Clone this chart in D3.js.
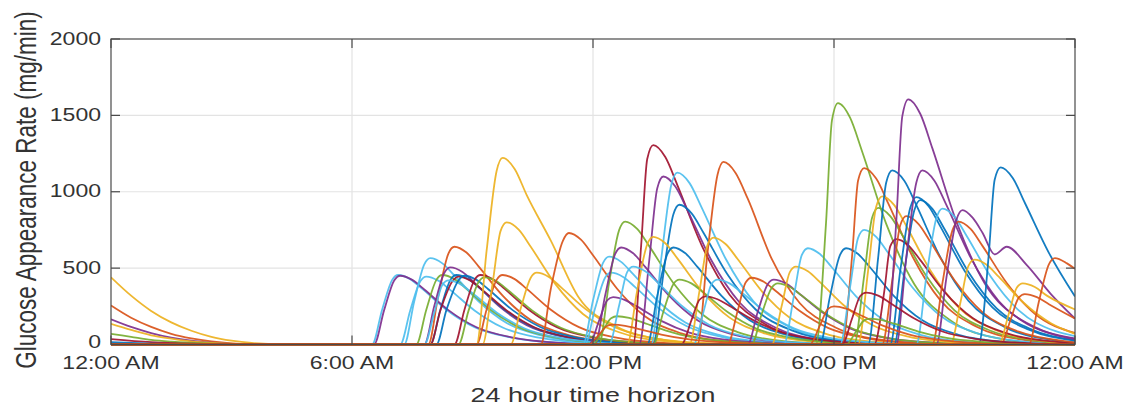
<!DOCTYPE html>
<html>
<head>
<meta charset="utf-8">
<script src="https://cdn.jsdelivr.net/npm/d3@7"></script>
<style>
  html, body { margin: 0; padding: 0; background: #fff; }
  svg { display: block; }
  text { font-family: "Liberation Sans", Arial, Helvetica, sans-serif; fill: #333; }
</style>
</head>
<body>
<svg id="chart" width="1133" height="405"></svg>
<script>
// ---------- data ----------
const xTicks = [0, 6, 12, 18, 24];
const xTickLabels = ["12:00 AM", "6:00 AM", "12:00 PM", "6:00 PM", "12:00 AM"];
const yTicks = [0, 500, 1000, 1500, 2000];
const xLabel = "24 hour time horizon";
const yLabel = "Glucose Appearance Rate (mg/min)";

const palette = { B: "#0072BD", O: "#D95319", Y: "#EDB120", P: "#7E2F8E", G: "#77AC30", L: "#4DBEEE", R: "#A2142F" };

// colour key for each series (same order as seriesPoints)
const seriesColorKeys = [
  "Y","O","P","Y","G","R","B",
  "L","P","L","L","G","O","P","B","R","L","B","R","G","O","Y","Y","Y","O",
  "L","L","G","P","P","G","R","P","L","B","Y","B","L","G","O","Y","R","L",
  "O","P","G","Y","L","G","B","O","L","G","Y","B","R","O","P","B","B","P","L","O","P","Y","B","Y","O","O",
  "O","G","R","O"
];

// each series: [hour, mg/min] points
const seriesPoints = [
  [[0,440],[0.5,320],[1,220],[1.5,145],[2,90],[2.5,50],[3,25],[3.5,10],[4.5,0],[24,0]],
  [[0,255],[0.5,175],[1,115],[1.5,70],[2,40],[2.5,20],[3,8],[4,0],[24,0]],
  [[0,165],[0.5,115],[1,75],[1.5,45],[2,25],[2.5,12],[3.5,0],[24,0]],
  [[0,135],[0.5,95],[1,60],[1.5,38],[2,20],[3,5],[3.5,0],[24,0]],
  [[0,70],[0.5,50],[1,30],[1.5,18],[2.5,5],[3.5,0],[24,0]],
  [[0,35],[1,15],[2,5],[3,0],[24,0]],
  [[0,15],[1,5],[2,0],[24,0]],
  // morning
  [[0,0],[6.5,0],[6.75,228],[7,423],[7.15,455],[7.45,428],[7.75,364],[8.35,228],[9.05,114],[9.95,46],[11.15,11],[12.65,0],[24,0]],
  [[0,0],[6.55,0],[6.8,225],[7.05,419],[7.2,450],[7.5,423],[7.8,360],[8.4,225],[9.1,113],[10,45],[11.2,11],[12.7,0],[24,0]],
  [[0,0],[7.3,0],[7.55,283],[7.8,525],[7.95,565],[8.25,531],[8.55,452],[9.15,283],[9.85,141],[10.75,57],[11.95,14],[13.45,0],[24,0]],
  [[0,0],[7.2,0],[7.45,223],[7.7,414],[7.85,445],[8.15,418],[8.45,356],[9.05,223],[9.75,111],[10.65,45],[11.85,11],[13.35,0],[24,0]],
  [[0,0],[7.6,0],[7.85,228],[8.1,423],[8.25,455],[8.55,428],[8.85,364],[9.45,228],[10.15,114],[11.05,46],[12.25,11],[13.75,0],[24,0]],
  [[0,0],[7.9,0],[8.15,320],[8.4,595],[8.55,640],[8.85,602],[9.15,512],[9.75,320],[10.45,160],[11.35,64],[12.55,16],[14.05,0],[24,0]],
  [[0,0],[7.8,0],[8.05,253],[8.3,470],[8.45,505],[8.75,475],[9.05,404],[9.65,253],[10.35,126],[11.25,51],[12.45,13],[13.95,0],[24,0]],
  [[0,0],[7.95,0],[8.2,228],[8.45,423],[8.6,455],[8.9,428],[9.2,364],[9.8,228],[10.5,114],[11.4,46],[12.6,11],[14.1,0],[24,0]],
  [[0,0],[7.95,0],[8.2,223],[8.5,414],[8.65,445],[8.95,418],[9.25,356],[9.85,223],[10.55,111],[11.45,45],[12.65,11],[14.15,0],[24,0]],
  [[0,0],[7.8,0],[8.05,210],[8.25,391],[8.4,420],[8.7,395],[9,336],[9.6,210],[10.3,105],[11.2,42],[12.4,11],[13.9,0],[24,0]],
  [[0,0],[8.1,0],[8.35,225],[8.65,419],[8.8,450],[9.1,423],[9.4,360],[10,225],[10.7,113],[11.6,45],[12.8,11],[14.3,0],[24,0]],
  [[0,0],[8.55,0],[8.8,228],[9.05,423],[9.2,455],[9.5,428],[9.8,364],[10.4,228],[11.1,114],[12,46],[13.2,11],[14.7,0],[24,0]],
  [[0,0],[8.65,0],[8.9,220],[9.15,409],[9.3,440],[9.6,414],[9.9,352],[10.5,220],[11.2,110],[12.1,44],[13.3,11],[14.8,0],[24,0]],
  [[0,0],[9.1,0],[9.35,228],[9.6,423],[9.75,455],[10.05,428],[10.35,364],[10.95,228],[11.65,114],[12.55,46],[13.75,11],[15.25,0],[24,0]],
  [[0,0],[9.1,0],[9.35,611],[9.6,1136],[9.75,1222],[10.05,1149],[10.35,978],[10.95,680],[11.65,306],[12.55,122],[13.75,31],[15.25,0],[24,0]],
  [[0,0],[9.25,0],[9.5,400],[9.7,744],[9.85,800],[10.15,752],[10.45,640],[11.05,400],[11.75,200],[12.65,80],[13.85,20],[15.35,0],[24,0]],
  [[0,0],[9.95,0],[10.2,235],[10.45,437],[10.6,470],[10.9,442],[11.2,376],[11.8,235],[12.5,118],[13.4,47],[14.6,12],[16.1,0],[24,0]],
  [[0,0],[10.7,0],[10.95,365],[11.25,679],[11.4,730],[11.7,686],[12,584],[12.6,365],[13.3,183],[14.2,73],[15.4,18],[16.9,0],[24,0]],
  // around noon
  [[0,0],[11.75,0],[12,288],[12.25,535],[12.4,575],[12.7,541],[13,460],[13.6,288],[14.3,144],[15.2,58],[16.4,14],[17.9,0],[24,0]],
  [[0,0],[11.8,0],[12.05,235],[12.3,437],[12.45,470],[12.75,442],[13.05,376],[13.65,235],[14.35,118],[15.25,47],[16.45,12],[17.95,0],[24,0]],
  [[0,0],[12.15,0],[12.4,403],[12.65,749],[12.8,805],[13.1,757],[13.4,644],[14,403],[14.7,201],[15.6,81],[16.8,20],[18.3,0],[24,0]],
  [[0,0],[12.05,0],[12.3,318],[12.55,591],[12.7,635],[13,597],[13.3,508],[13.9,318],[14.6,159],[15.5,64],[16.7,16],[18.2,0],[24,0]],
  [[0,0],[11.9,0],[12.15,155],[12.35,288],[12.5,310],[12.8,291],[13.1,248],[13.7,155],[14.4,78],[15.3,31],[16.5,8],[18,0],[24,0]],
  [[0,0],[12,0],[12.25,93],[12.45,172],[12.6,185],[12.9,174],[13.2,148],[13.8,93],[14.5,46],[15.4,19],[16.6,5],[18.1,0],[24,0]],
  [[0,0],[13,0],[13.2,653],[13.35,1214],[13.5,1305],[13.8,1227],[14.1,1044],[14.7,653],[15.4,326],[16.3,131],[17.5,33],[19,0],[24,0]],
  [[0,0],[13.15,0],[13.4,550],[13.6,1023],[13.75,1100],[14.05,1034],[14.35,880],[14.95,550],[15.65,275],[16.55,110],[17.75,28],[19.25,0],[24,0]],
  [[0,0],[13.45,0],[13.7,563],[13.95,1046],[14.1,1125],[14.4,1058],[14.7,900],[15.3,563],[16,281],[16.9,113],[18.1,28],[19.6,0],[24,0]],
  [[0,0],[13.5,0],[13.75,458],[14,851],[14.15,915],[14.45,860],[14.75,732],[15.35,458],[16.05,229],[16.95,92],[18.15,23],[19.65,0],[24,0]],
  [[0,0],[12.85,0],[13.1,353],[13.35,656],[13.5,705],[13.8,663],[14.1,564],[14.7,353],[15.4,176],[16.3,71],[17.5,18],[19,0],[24,0]],
  [[0,0],[13.35,0],[13.6,318],[13.85,591],[14,635],[14.3,597],[14.6,508],[15.2,318],[15.9,159],[16.8,64],[18,16],[19.5,0],[24,0]],
  [[0,0],[12.4,0],[12.65,255],[12.85,474],[13,510],[13.3,479],[13.6,408],[14.2,255],[14.9,128],[15.8,51],[17,13],[18.5,0],[24,0]],
  [[0,0],[13.5,0],[13.75,213],[14,395],[14.15,425],[14.45,400],[14.75,340],[15.35,213],[16.05,106],[16.95,43],[18.15,11],[19.65,0],[24,0]],
  [[0,0],[14.6,0],[14.85,598],[15.1,1111],[15.25,1195],[15.55,1123],[15.85,956],[16.45,560],[17.15,270],[18.05,110],[19.25,28],[20.75,0],[24,0]],
  [[0,0],[14.4,0],[14.65,350],[14.85,651],[15,700],[15.3,658],[15.6,560],[16.2,350],[16.9,175],[17.8,70],[19,18],[20.5,0],[24,0]],
  [[0,0],[14.2,0],[14.45,158],[14.65,293],[14.8,315],[15.1,296],[15.4,252],[16,158],[16.7,79],[17.6,32],[18.8,8],[20.3,0],[24,0]],
  [[0,0],[14.5,0],[14.75,213],[14.95,395],[15.1,425],[15.4,400],[15.7,340],[16.3,213],[17,106],[17.9,43],[19.1,11],[20.6,0],[24,0]],
  // afternoon / evening
  [[0,0],[15.35,0],[15.6,219],[15.8,406],[15.95,437],[16.25,411],[16.55,350],[17.15,219],[17.85,109],[18.75,44],[19.95,11],[21.45,0],[24,0]],
  [[0,0],[15.85,0],[16.1,213],[16.35,395],[16.5,425],[16.8,400],[17.1,340],[17.7,213],[18.4,106],[19.3,43],[20.5,11],[22,0],[24,0]],
  [[0,0],[15.95,0],[16.2,200],[16.45,372],[16.6,400],[16.9,376],[17.2,320],[17.8,200],[18.5,100],[19.4,40],[20.6,10],[22.1,0],[24,0]],
  [[0,0],[16.45,0],[16.7,255],[16.9,474],[17.05,510],[17.35,479],[17.65,408],[18.25,255],[18.95,128],[19.85,51],[21.05,13],[22.55,0],[24,0]],
  [[0,0],[16.75,0],[17,315],[17.2,586],[17.35,630],[17.65,592],[17.95,504],[18.55,315],[19.25,158],[20.15,63],[21.35,16],[22.85,0],[24,0]],
  [[0,0],[17.55,0],[17.8,790],[17.95,1469],[18.1,1580],[18.4,1485],[18.7,1264],[19.3,790],[20,395],[20.9,158],[22.1,40],[23.6,0],[24,0]],
  [[0,0],[17.65,0],[17.9,315],[18.15,586],[18.3,630],[18.6,592],[18.9,504],[19.5,315],[20.2,158],[21.1,63],[22.3,16],[23.8,0],[24,0]],
  [[0,0],[18.2,0],[18.45,578],[18.6,1074],[18.75,1155],[19.05,1086],[19.35,924],[19.95,578],[20.65,289],[21.55,116],[22.75,29],[24,0]],
  [[0,0],[18.15,0],[18.4,375],[18.6,698],[18.75,750],[19.05,705],[19.35,600],[19.95,375],[20.65,188],[21.55,75],[22.75,19],[24,0]],
  [[0,0],[18.5,0],[18.75,448],[18.95,832],[19.1,895],[19.4,841],[19.7,716],[20.3,448],[21,224],[21.9,90],[23.1,22],[24,5]],
  [[0,0],[18.6,0],[18.85,485],[19.05,902],[19.2,970],[19.5,912],[19.8,776],[20.4,485],[21.1,243],[22,97],[23.2,24],[24,8]],
  [[0,0],[18.85,0],[19.1,570],[19.3,1060],[19.45,1140],[19.75,1072],[20.05,912],[20.65,570],[21.35,285],[22.25,114],[23.45,29],[24,12]],
  [[0,0],[19,0],[19.25,345],[19.4,642],[19.55,690],[19.85,649],[20.15,552],[20.75,345],[21.45,173],[22.35,69],[23.55,17],[24,8]],
  [[0,0],[19.2,0],[19.45,420],[19.65,781],[19.8,840],[20.1,790],[20.4,672],[21,420],[21.7,210],[22.6,84],[23.8,21],[24,15]],
  [[0,0],[19.3,0],[19.55,803],[19.7,1493],[19.85,1605],[20.15,1509],[20.45,1284],[21.05,803],[21.75,401],[22.65,161],[24,40]],
  [[0,0],[19.4,0],[19.65,483],[19.9,897],[20.05,965],[20.35,907],[20.65,772],[21.25,483],[21.95,241],[22.85,97],[24,26]],
  [[0,0],[19.5,0],[19.75,473],[20,879],[20.15,945],[20.45,888],[20.75,756],[21.35,473],[22.05,236],[22.95,95],[24,28]],
  [[0,0],[19.55,0],[19.8,570],[20.05,1060],[20.2,1140],[20.5,1072],[20.8,912],[21.4,570],[22.1,285],[23,114],[24,35]],
  [[0,0],[20.05,0],[20.3,445],[20.55,828],[20.7,890],[21,837],[21.3,712],[21.9,445],[22.6,223],[23.5,89],[24,55]],
  [[0,0],[20.45,0],[20.7,403],[20.95,749],[21.1,805],[21.4,757],[21.7,644],[22.3,403],[23,201],[24,75]],
  [[0,0],[20.55,0],[20.8,440],[21.05,818],[21.2,880],[21.45,830],[21.7,730],[22,590],[22.3,640],[22.8,520],[23.4,330],[24,170]],
  [[0,0],[20.9,0],[21.15,278],[21.35,516],[21.5,555],[21.8,522],[22.1,444],[22.7,278],[23.4,139],[24,70]],
  [[0,0],[21.6,0],[21.85,580],[22,1079],[22.15,1160],[22.45,1090],[22.75,928],[23.35,600],[24,314]],
  [[0,0],[22.1,0],[22.35,200],[22.55,372],[22.7,400],[23,376],[23.3,320],[24,230]],
  [[0,0],[22.15,0],[22.4,165],[22.6,307],[22.75,330],[23.05,310],[23.35,264],[24,170]],
  [[0,0],[22.85,0],[23.1,280],[23.35,525],[23.5,565],[23.8,531],[24,495]],
  [[0,0],[17.4,0],[17.65,125],[17.85,233],[18,250],[18.3,235],[18.6,200],[19.2,125],[19.9,63],[20.8,25],[22,6],[23.5,0],[24,0]],
  [[0,0],[18.3,0],[18.55,85],[18.75,158],[18.9,170],[19.2,160],[19.5,136],[20.1,85],[20.8,43],[21.7,17],[22.9,4],[24,0]],
  [[0,0],[18.2,0],[18.45,170],[18.65,316],[18.8,340],[19.1,320],[19.4,272],[20,170],[20.7,85],[21.6,34],[22.8,9],[24,0]],
  [[0,0],[11.9,0],[12.15,65],[12.35,121],[12.5,130],[12.8,122],[13.1,104],[13.7,65],[14.4,33],[15.3,13],[16.5,3],[18,0],[24,0]]
];

// ---------- drawing ----------
const svg = d3.select("#chart");
const W = 1133, H = 405;
const plot = { left: 111, right: 1075, top: 39, bottom: 344.5 };
const STRETCH = 1.28; // horizontal stretch of the original figure's text

svg.append("rect").attr("width", W).attr("height", H).attr("fill", "#fff");

const x = d3.scaleLinear().domain([0, 24]).range([plot.left, plot.right]);
const y = d3.scaleLinear().domain([0, 2000]).range([plot.bottom, plot.top]);

// grid
const grid = svg.append("g");
grid.selectAll("line.gx").data(xTicks.slice(1, -1)).join("line")
  .attr("x1", d => x(d)).attr("x2", d => x(d))
  .attr("y1", plot.top).attr("y2", plot.bottom)
  .attr("stroke", "#e3e3e3").attr("stroke-width", 1.2);
grid.selectAll("line.gy").data(yTicks.slice(1, -1)).join("line")
  .attr("y1", d => y(d)).attr("y2", d => y(d))
  .attr("x1", plot.left).attr("x2", plot.right)
  .attr("stroke", "#e3e3e3").attr("stroke-width", 1.2);

// curves
const line = d3.line().x(d => x(d[0])).y(d => y(d[1])).curve(d3.curveMonotoneX);
svg.append("clipPath").attr("id", "clip").append("rect")
  .attr("x", plot.left).attr("y", plot.top)
  .attr("width", plot.right - plot.left).attr("height", plot.bottom - plot.top + 1);
svg.append("g").attr("clip-path", "url(#clip)")
  .selectAll("path").data(seriesPoints).join("path")
  .attr("d", d => line(d))
  .attr("fill", "none")
  .attr("stroke", (d, i) => palette[seriesColorKeys[i]])
  .attr("stroke-width", 1.8)
  .attr("stroke-linejoin", "round")
  .attr("stroke-opacity", 0.92);

// axes box
const axisColor = "#4a4a4a";
svg.append("rect")
  .attr("x", plot.left).attr("y", plot.top)
  .attr("width", plot.right - plot.left).attr("height", plot.bottom - plot.top)
  .attr("fill", "none").attr("stroke", axisColor).attr("stroke-width", 1.2);

// ticks (inward), both sides
const tl = 9;
const ticks = svg.append("g").attr("stroke", axisColor).attr("stroke-width", 1.2);
xTicks.forEach(t => {
  ticks.append("line").attr("x1", x(t)).attr("x2", x(t)).attr("y1", plot.bottom).attr("y2", plot.bottom - tl);
  ticks.append("line").attr("x1", x(t)).attr("x2", x(t)).attr("y1", plot.top).attr("y2", plot.top + tl);
});
yTicks.forEach(t => {
  ticks.append("line").attr("x1", plot.left).attr("x2", plot.left + tl).attr("y1", y(t)).attr("y2", y(t));
  ticks.append("line").attr("x1", plot.right).attr("x2", plot.right - tl).attr("y1", y(t)).attr("y2", y(t));
});

// tick labels
svg.append("g").selectAll("text").data(xTicks).join("text")
  .attr("transform", d => `translate(${x(d)},369) scale(${STRETCH},1)`)
  .attr("text-anchor", "middle")
  .attr("font-size", 18)
  .text((d, i) => xTickLabels[i]);

svg.append("g").selectAll("text").data(yTicks).join("text")
  .attr("transform", d => `translate(101,${y(d) + (d === 0 ? 3 : 5.5)}) scale(${STRETCH},1)`)
  .attr("text-anchor", "end")
  .attr("font-size", 18)
  .text(d => d);

// axis labels
svg.append("text")
  .attr("transform", `translate(${(plot.left + plot.right) / 2},402) scale(${STRETCH},1)`)
  .attr("text-anchor", "middle")
  .attr("font-size", 21)
  .text(xLabel);

svg.append("text")
  .attr("transform", `translate(36,190) rotate(-90) scale(1,${STRETCH})`)
  .attr("text-anchor", "middle")
  .attr("font-size", 22.5)
  .text(yLabel);
</script>
</body>
</html>
